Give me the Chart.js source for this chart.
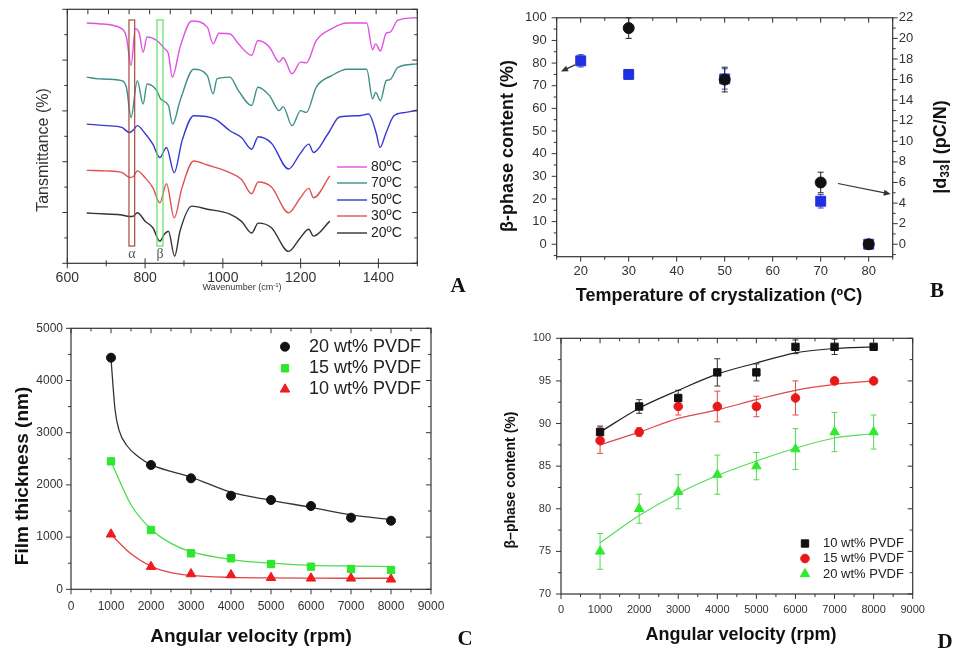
<!DOCTYPE html>
<html>
<head>
<meta charset="utf-8">
<script src="https://cdn.jsdelivr.net/npm/chart.js@4.4.1/dist/chart.umd.min.js"></script>
<style>
  body { margin: 0; background: #fff; width: 957px; height: 656px; position: relative; overflow: hidden; }
  canvas { position: absolute; }
  .tag { position: absolute; transform: translate(-50%, -50%); line-height: 1;
         font: bold 21px "Liberation Serif", "Times New Roman", serif; color: #111; }
</style>
</head>
<body>
<canvas id="chartA" width="478" height="300" style="left:0;top:0"></canvas>
<canvas id="chartC" width="478" height="356" style="left:0;top:300px"></canvas>
<canvas id="chartD" width="477" height="356" style="left:480px;top:300px"></canvas>
<canvas id="chartB" width="477" height="312" style="left:480px;top:0"></canvas>
<div class="tag" style="left:458px;top:285px">A</div>
<div class="tag" style="left:937px;top:290px">B</div>
<div class="tag" style="left:465px;top:638px">C</div>
<div class="tag" style="left:945px;top:641px">D</div>
<script>
// ---------- A : FTIR spectra (offset transmittance, arbitrary 0-100) ----------
const wn20 = [650, 700, 740, 760, 770, 780, 800, 820, 838, 850, 860, 876, 890, 920, 960, 1018, 1048, 1074, 1091, 1125, 1169, 1198, 1221, 1233, 1275];
const tr20 = [19.8, 19.4, 19.0, 18.4, 18.6, 19.9, 16.6, 14.0, 8.7, 11.5, 12.6, 2.8, 12.8, 22.5, 21.3, 19.4, 16.5, 11.9, 15.8, 14.0, 4.7, 9.8, 13.4, 10.7, 16.6];
const wn30 = [650, 700, 740, 760, 770, 780, 800, 820, 838, 855, 875, 895, 925, 960, 1018, 1048, 1074, 1091, 1125, 1169, 1198, 1221, 1233, 1275];
const tr30 = [36.6, 36.4, 35.8, 33.8, 34.2, 36.4, 33.7, 29.8, 23.8, 31.3, 17.9, 29.8, 40.3, 38.7, 35.7, 33.0, 27.4, 32.0, 30.0, 19.9, 25.5, 29.5, 25.8, 34.4];
const wn50 = [650, 700, 740, 760, 770, 780, 800, 820, 838, 855, 875, 895, 925, 980, 1018, 1048, 1074, 1091, 1125, 1169, 1198, 1221, 1233, 1270, 1300, 1350, 1375, 1395, 1404, 1420, 1440, 1470, 1500];
const tr50 = [54.8, 54.2, 53.5, 51.5, 52.5, 54.2, 51.1, 46.9, 41.6, 45.6, 35.7, 48.2, 58.1, 56.8, 52.2, 49.5, 44.9, 49.8, 47.3, 37.1, 43.0, 46.9, 43.6, 50.9, 57.6, 58.1, 58.8, 50.9, 45.6, 51.5, 58.1, 59.4, 60.3];
const wn70 = [650, 680, 740, 752, 764, 780, 795, 805, 830, 840, 860, 871, 890, 925, 960, 975, 985, 1018, 1040, 1074, 1090, 1120, 1145, 1155, 1178, 1200, 1215, 1240, 1280, 1320, 1370, 1385, 1393, 1405, 1420, 1430, 1450, 1500];
const tr70 = [73.3, 72.6, 71.9, 69.3, 57.4, 71.9, 62.7, 70.6, 68.0, 64.7, 62.1, 54.8, 64.0, 76.4, 73.9, 66.7, 72.6, 73.3, 68.0, 62.1, 69.3, 66.0, 60.1, 61.7, 54.2, 60.1, 59.4, 69.3, 73.9, 76.4, 76.4, 64.7, 67.3, 64.0, 71.9, 72.3, 77.1, 78.5];
const wn80 = [650, 680, 740, 752, 764, 775, 785, 795, 805, 830, 850, 860, 870, 890, 920, 960, 975, 990, 1018, 1040, 1074, 1090, 1120, 1145, 1155, 1178, 1200, 1215, 1240, 1280, 1320, 1370, 1385, 1393, 1405, 1420, 1430, 1450, 1500];
const tr80 = [94.6, 94.3, 92.4, 89.1, 77.9, 92.4, 90.6, 83.1, 89.1, 87.7, 84.5, 82.5, 73.3, 85.1, 95.4, 93.0, 86.4, 90.6, 90.4, 86.4, 81.9, 87.7, 85.1, 79.2, 80.9, 74.6, 79.2, 78.9, 87.7, 92.4, 94.6, 94.6, 84.1, 86.4, 83.6, 90.6, 91.0, 95.7, 96.7];
const ticksAx = [600, 800, 1000, 1200, 1400];

// ---------- B : beta-phase content and d33 vs crystallization temperature ----------
const tempBeta = [20, 30, 50, 70, 80];
const betaB = [81, 75, 73, 19, 0];
const betaBErr = [2.7, 2.0, 4.5, 3.0, 0.8];
const tempD33 = [30, 50, 70, 80];
const d33 = [21, 16, 6, 0];
const d33Err = [1.0, 1.2, 1.0, 0.3];
const ticksBx = [20, 30, 40, 50, 60, 70, 80];
const ticksBy = [0, 10, 20, 30, 40, 50, 60, 70, 80, 90, 100];
const ticksBy2 = [0, 2, 4, 6, 8, 10, 12, 14, 16, 18, 20, 22];

// ---------- C : film thickness vs angular velocity ----------
const rpm = [1000, 2000, 3000, 4000, 5000, 6000, 7000, 8000];
const thick20 = [4437, 2381, 2126, 1793, 1711, 1596, 1372, 1314];
const thick15 = [2452, 1136, 690, 594, 485, 433, 389, 370];
const thick10 = [1054, 433, 293, 274, 222, 211, 211, 192];
const fitRpm20 = [1000, 1100, 1200, 1400, 1700, 2000, 3000, 4000, 5000, 6000, 7000, 8000];
const fitThick20 = [4420, 3450, 3050, 2750, 2530, 2390, 2150, 1860, 1705, 1570, 1425, 1335];
const fitRpm = [1000, 1500, 2000, 2500, 3000, 4000, 5000, 6000, 7000, 8000];
const fitThick15 = [2450, 1620, 1150, 880, 720, 570, 500, 460, 445, 435];
const fitThick10 = [1050, 680, 440, 320, 265, 228, 218, 214, 212, 212];
const ticksRpm = [0, 1000, 2000, 3000, 4000, 5000, 6000, 7000, 8000, 9000];
const ticksCy = [0, 1000, 2000, 3000, 4000, 5000];

// ---------- D : beta-phase content vs angular velocity ----------
const beta10 = [89, 92, 93, 96, 96, 99, 99, 99];
const beta10Err = [0.7, 0.8, 0.9, 1.6, 1.0, 0.8, 0.9, 0.3];
const beta15 = [88, 89, 92, 92, 92, 93, 95, 95];
const beta15Err = [1.5, 0.5, 1.0, 1.8, 1.2, 2.0, 0.4, 0.2];
const beta20 = [75, 80, 82, 84, 85, 87, 89, 89];
const beta20Err = [2.1, 1.7, 2.0, 2.3, 1.6, 2.4, 2.3, 2.0];
const fitBeta10 = [89.0, 91.8, 93.9, 95.8, 97.1, 98.3, 98.8, 99.0];
const fitBeta15 = [87.5, 89.0, 90.6, 91.6, 92.8, 93.9, 94.6, 95.0];
const fitBeta20 = [76.0, 79.2, 81.8, 83.9, 85.6, 87.1, 88.3, 88.8];
const ticksDy = [70, 75, 80, 85, 90, 95, 100];

const FONT = '"Liberation Sans", Arial, Helvetica, sans-serif';
Chart.defaults.font.family = FONT;
Chart.defaults.animation = false;
Chart.defaults.plugins.legend.display = false;
Chart.defaults.plugins.tooltip.enabled = false;

const pts = (xs, ys) => xs.map((x, i) => ({x: x, y: ys[i]}));

function marks(label, xs, ys, color, style, r, extra) {
  return Object.assign({label: label, data: pts(xs, ys), showLine: false, pointStyle: style,
    pointRadius: r, pointHoverRadius: r, backgroundColor: color, borderColor: color, borderWidth: 1}, extra || {});
}
function curve(label, xs, ys, color, w) {
  return {label: label, data: pts(xs, ys), showLine: true, pointRadius: 0, pointHoverRadius: 0,
    borderColor: color, backgroundColor: color, borderWidth: w, cubicInterpolationMode: 'monotone', fill: false};
}
// each axis gets a fixed box so the plot frame lands where it should
function lin(min, max, vals, size, pad, room, more) {
  return Object.assign({
    type: 'linear', min: min, max: max, bounds: 'data',
    afterFit: s => { if (s.isHorizontal()) s.height = room; else s.width = room; },
    afterBuildTicks: s => { s.ticks = vals.map(v => ({value: v})); },
    grid: {display: false, drawTicks: false}, border: {display: false},
    ticks: {autoSkip: false, maxRotation: 0, minRotation: 0, color: '#333', padding: pad,
      font: {size: size}, callback: v => String(v)}
  }, more || {});
}

function drawTicks(ctx, chart, t) {
  const a = chart.chartArea, s = chart.scales[t.scale];
  const horiz = t.side === 'top' || t.side === 'bottom';
  const base = a[t.side];
  const sign = (t.side === 'bottom' || t.side === 'right') ? 1 : -1;
  const org = t.origin || 0;
  for (let k = Math.ceil((s.min - org) / t.minor - 1e-9); org + k * t.minor <= s.max + 1e-9; k++) {
    const v = org + k * t.minor;
    const r = (v - org) / t.major;
    const len = Math.abs(r - Math.round(r)) < 1e-6 ? 5 : 3;
    let p0 = base, p1;
    if (t.dir === 'in') p1 = base - sign * len;
    else if (t.dir === 'out') p1 = base + sign * len;
    else { p0 = base - sign * len; p1 = base + sign * len; }
    const px = s.getPixelForValue(v);
    ctx.beginPath();
    if (horiz) { ctx.moveTo(px, p0); ctx.lineTo(px, p1); }
    else { ctx.moveTo(p0, px); ctx.lineTo(p1, px); }
    ctx.stroke();
  }
}

function makeDecor(cfg) {
  return {
    id: 'decor',
    beforeDatasetsDraw(chart) {
      const ctx = chart.ctx, xs = chart.scales.x;
      (cfg.errors || []).forEach(e => {
        const ds = chart.data.datasets[e.dataset];
        const ys = chart.scales[ds.yAxisID || 'y'];
        ctx.save();
        ctx.strokeStyle = e.color; ctx.lineWidth = 1;
        ds.data.forEach((p, i) => {
          const d = e.err[i];
          if (!d) return;
          const px = xs.getPixelForValue(p.x);
          const y1 = ys.getPixelForValue(p.y + d), y2 = ys.getPixelForValue(p.y - d);
          ctx.beginPath();
          ctx.moveTo(px, y1); ctx.lineTo(px, y2);
          ctx.moveTo(px - e.cap, y1); ctx.lineTo(px + e.cap, y1);
          ctx.moveTo(px - e.cap, y2); ctx.lineTo(px + e.cap, y2);
          ctx.stroke();
        });
        ctx.restore();
      });
    },
    afterDraw(chart) {
      const ctx = chart.ctx, a = chart.chartArea, xs = chart.scales.x;
      ctx.save();
      // marker boxes (alpha / beta bands)
      (cfg.boxes || []).forEach(b => {
        const ys = chart.scales.y;
        const l = xs.getPixelForValue(b.x0), r = xs.getPixelForValue(b.x1);
        const t = ys.getPixelForValue(b.y1), bt = ys.getPixelForValue(b.y0);
        ctx.strokeStyle = b.color; ctx.lineWidth = 1.2;
        ctx.strokeRect(l, t, r - l, bt - t);
        ctx.fillStyle = '#555'; ctx.font = '14px "Liberation Serif", serif';
        ctx.textAlign = 'center'; ctx.textBaseline = 'middle';
        ctx.fillText(b.label, (l + r) / 2, ys.getPixelForValue(b.ly));
      });
      // frame and ticks
      ctx.strokeStyle = '#333'; ctx.lineWidth = 1.2;
      ctx.strokeRect(a.left, a.top, a.right - a.left, a.bottom - a.top);
      ctx.lineWidth = 1;
      (cfg.ticks || []).forEach(t => drawTicks(ctx, chart, t));
      // arrows
      (cfg.arrows || []).forEach(ar => {
        const ys = chart.scales[ar.axis];
        const x1 = xs.getPixelForValue(ar.x1), y1 = ys.getPixelForValue(ar.y1);
        const x2 = xs.getPixelForValue(ar.x2), y2 = ys.getPixelForValue(ar.y2);
        const ang = Math.atan2(y2 - y1, x2 - x1);
        ctx.strokeStyle = '#333'; ctx.fillStyle = '#333'; ctx.lineWidth = 1.2;
        ctx.beginPath(); ctx.moveTo(x1, y1); ctx.lineTo(x2 - 5 * Math.cos(ang), y2 - 5 * Math.sin(ang)); ctx.stroke();
        ctx.beginPath();
        ctx.moveTo(x2, y2);
        ctx.lineTo(x2 - 7 * Math.cos(ang) + 3 * Math.sin(ang), y2 - 7 * Math.sin(ang) - 3 * Math.cos(ang));
        ctx.lineTo(x2 - 7 * Math.cos(ang) - 3 * Math.sin(ang), y2 - 7 * Math.sin(ang) + 3 * Math.cos(ang));
        ctx.closePath(); ctx.fill();
      });
      // axis titles
      (cfg.titles || []).forEach(t => {
        ctx.save();
        ctx.translate(t.x, t.y);
        if (t.rot) ctx.rotate(t.rot);
        ctx.fillStyle = t.color || '#111';
        ctx.textAlign = 'left'; ctx.textBaseline = 'middle';
        const parts = t.parts || [{text: t.text}];
        const fnt = p => (t.bold ? 'bold ' : '') + (p.size || t.size) + 'px ' + FONT;
        let w = 0;
        parts.forEach(p => { ctx.font = fnt(p); w += ctx.measureText(p.text).width; });
        let x = -w / 2;
        parts.forEach(p => { ctx.font = fnt(p); ctx.fillText(p.text, x, p.dy || 0); x += ctx.measureText(p.text).width; });
        ctx.restore();
      });
      // legend
      const lg = cfg.legend;
      if (lg) {
        lg.items.forEach((idx, i) => {
          const ds = chart.data.datasets[idx], y = lg.ys[i];
          if (lg.line) {
            ctx.strokeStyle = ds.borderColor; ctx.lineWidth = ds.borderWidth;
            ctx.beginPath(); ctx.moveTo(lg.x1, y); ctx.lineTo(lg.x2, y); ctx.stroke();
          } else {
            ctx.fillStyle = ds.backgroundColor; ctx.strokeStyle = ds.borderColor; ctx.lineWidth = 1;
            Chart.helpers.drawPoint(ctx, {pointStyle: ds.pointStyle, radius: ds.pointRadius, rotation: 0, borderWidth: 1}, lg.sx, y);
          }
          ctx.fillStyle = '#222'; ctx.font = lg.size + 'px ' + FONT;
          ctx.textAlign = 'left'; ctx.textBaseline = 'middle';
          ctx.fillText(ds.label, lg.tx, y);
        });
      }
      ctx.restore();
    }
  };
}

// ---------------- Chart A ----------------
new Chart(document.getElementById('chartA'), {
  type: 'scatter',
  data: {datasets: [
    curve('20ºC', wn20, tr20, '#333333', 1.4),
    curve('30ºC', wn30, tr30, '#e05252', 1.4),
    curve('50ºC', wn50, tr50, '#3838d2', 1.4),
    curve('70ºC', wn70, tr70, '#3f8f88', 1.4),
    curve('80ºC', wn80, tr80, '#e052e0', 1.4)
  ]},
  options: {
    responsive: false, devicePixelRatio: 1,
    layout: {padding: {left: 0, top: 9.3, right: 60.7, bottom: 0}},
    scales: {
      x: lin(600, 1500, ticksAx, 14, 6, 36.7),
      y: lin(0, 100, [], 14, 6, 67.3, {ticks: {display: false}})
    }
  },
  plugins: [makeDecor({
    ticks: [
      {side: 'bottom', scale: 'x', major: 200, minor: 100, dir: 'cross'},
      {side: 'top', scale: 'x', major: 900 / 17, minor: 900 / 17, origin: 600, dir: 'in'},
      {side: 'left', scale: 'y', major: 20, minor: 10, dir: 'out'},
      {side: 'right', scale: 'y', major: 20, minor: 10, dir: 'in'}
    ],
    boxes: [
      {x0: 758.6, x1: 773.3, y0: 6.8, y1: 95.8, color: '#a5493d', label: 'α', ly: 3.6},
      {x0: 830.6, x1: 846.1, y0: 6.8, y1: 95.8, color: '#62dc62', label: 'β', ly: 3.6}
    ],
    titles: [
      {text: 'Tansmittance (%)', x: 44, y: 150, rot: -Math.PI / 2, size: 16, color: '#333'},
      {parts: [{text: 'Wavenumber (cm'}, {text: '-1', size: 6, dy: -3}, {text: ')'}], x: 242, y: 288, size: 9, color: '#333'}
    ],
    legend: {line: true, items: [4, 3, 2, 1, 0], x1: 337, x2: 367, tx: 371, ys: [167, 183, 200, 216, 233], size: 14}
  })]
});

// ---------------- Chart B ----------------
new Chart(document.getElementById('chartB'), {
  type: 'scatter',
  data: {datasets: [
    marks('|d33|', tempD33, d33, '#111111', 'circle', 5.5, {yAxisID: 'y2'}),
    marks('β-phase content', tempBeta, betaB, '#2030e0', 'rect', 7, {yAxisID: 'y'})
  ]},
  options: {
    responsive: false, devicePixelRatio: 1,
    layout: {padding: {left: 0, top: 11.5, right: 0, bottom: 0}},
    scales: {
      x: lin(15, 85, ticksBx, 13, 7, 55.3),
      y: lin(-5.5, 100, ticksBy, 13, 10, 76.7, {position: 'left'}),
      y2: lin(-1.21, 22, ticksBy2, 13, 6, 64.3, {position: 'right'})
    }
  },
  plugins: [makeDecor({
    ticks: [
      {side: 'bottom', scale: 'x', major: 10, minor: 5, dir: 'out'},
      {side: 'top', scale: 'x', major: 10, minor: 5, dir: 'in'},
      {side: 'left', scale: 'y', major: 10, minor: 5, dir: 'out'},
      {side: 'right', scale: 'y2', major: 2, minor: 1, dir: 'out'}
    ],
    errors: [
      {dataset: 1, err: betaBErr, color: '#3040d8', cap: 3},
      {dataset: 0, err: d33Err, color: '#222', cap: 3}
    ],
    arrows: [
      {x1: 18.8, y1: 79.2, x2: 15.9, y2: 76.3, axis: 'y'},
      {x1: 73.6, y1: 5.9, x2: 84.6, y2: 4.87, axis: 'y2'}
    ],
    titles: [
      {text: 'β-phase content (%)', x: 28, y: 146, rot: -Math.PI / 2, size: 18, bold: true},
      {text: 'Temperature of crystalization (ºC)', x: 239, y: 296, size: 18, bold: true},
      {parts: [{text: '|d'}, {text: '33', size: 12, dy: 5}, {text: '| (pC/N)'}], x: 461, y: 147, rot: -Math.PI / 2, size: 18, bold: true}
    ]
  })]
});

// ---------------- Chart C ----------------
new Chart(document.getElementById('chartC'), {
  type: 'scatter',
  data: {datasets: [
    marks('20 wt% PVDF', rpm, thick20, '#111111', 'circle', 4.5),
    marks('15 wt% PVDF', rpm, thick15, '#2ee62e', 'rect', 5.2),
    marks('10 wt% PVDF', rpm, thick10, '#ee1c1c', 'triangle', 5.5),
    curve('fit 20', fitRpm20, fitThick20, '#333333', 1.3),
    curve('fit 15', fitRpm, fitThick15, '#4cdc4c', 1.3),
    curve('fit 10', fitRpm, fitThick10, '#e04646', 1.3)
  ]},
  options: {
    responsive: false, devicePixelRatio: 1,
    layout: {padding: {left: 0, top: 28.3, right: 47, bottom: 0}},
    scales: {
      x: lin(0, 9000, ticksRpm, 12, 10.5, 66.7),
      y: lin(0, 5000, ticksCy, 12, 8, 71)
    }
  },
  plugins: [makeDecor({
    ticks: [
      {side: 'bottom', scale: 'x', major: 1000, minor: 500, dir: 'out'},
      {side: 'top', scale: 'x', major: 1000, minor: 500, dir: 'in'},
      {side: 'left', scale: 'y', major: 1000, minor: 500, dir: 'out'},
      {side: 'right', scale: 'y', major: 1000, minor: 500, dir: 'in'}
    ],
    titles: [
      {text: 'Film thickness (nm)', x: 23, y: 176, rot: -Math.PI / 2, size: 19, bold: true},
      {text: 'Angular velocity (rpm)', x: 251, y: 336.7, size: 19, bold: true}
    ],
    legend: {items: [0, 1, 2], sx: 285, tx: 309, ys: [46.7, 68.3, 89.3], size: 18}
  })]
});

// ---------------- Chart D ----------------
new Chart(document.getElementById('chartD'), {
  type: 'scatter',
  data: {datasets: [
    marks('10 wt% PVDF', rpm, beta10, '#111111', 'rect', 5.2),
    marks('15 wt% PVDF', rpm, beta15, '#e81818', 'circle', 4.3),
    marks('20 wt% PVDF', rpm, beta20, '#30ea30', 'triangle', 5.4),
    curve('fit 10', rpm, fitBeta10, '#222222', 1.2),
    curve('fit 15', rpm, fitBeta15, '#e04848', 1.2),
    curve('fit 20', rpm, fitBeta20, '#55dd55', 1.2)
  ]},
  options: {
    responsive: false, devicePixelRatio: 1,
    layout: {padding: {left: 0, top: 38.3, right: 44.3, bottom: 0}},
    scales: {
      x: lin(0, 9000, ticksRpm, 11, 9.5, 62),
      y: lin(70, 100, ticksDy, 11, 10, 81)
    }
  },
  plugins: [makeDecor({
    ticks: [
      {side: 'bottom', scale: 'x', major: 1000, minor: 500, dir: 'out'},
      {side: 'top', scale: 'x', major: 1000, minor: 500, dir: 'in'},
      {side: 'left', scale: 'y', major: 5, minor: 2.5, dir: 'out'},
      {side: 'right', scale: 'y', major: 5, minor: 2.5, dir: 'in'}
    ],
    errors: [
      {dataset: 0, err: beta10Err, color: '#333', cap: 3},
      {dataset: 1, err: beta15Err, color: '#e04848', cap: 3},
      {dataset: 2, err: beta20Err, color: '#50dd50', cap: 3}
    ],
    titles: [
      {text: 'β–phase content (%)', x: 31.5, y: 180, rot: -Math.PI / 2, size: 14, bold: true},
      {text: 'Angular velocity (rpm)', x: 261, y: 335, size: 18, bold: true}
    ],
    legend: {items: [0, 1, 2], sx: 325, tx: 343, ys: [243.5, 258.5, 274], size: 13}
  })]
});
</script>
</body>
</html>
